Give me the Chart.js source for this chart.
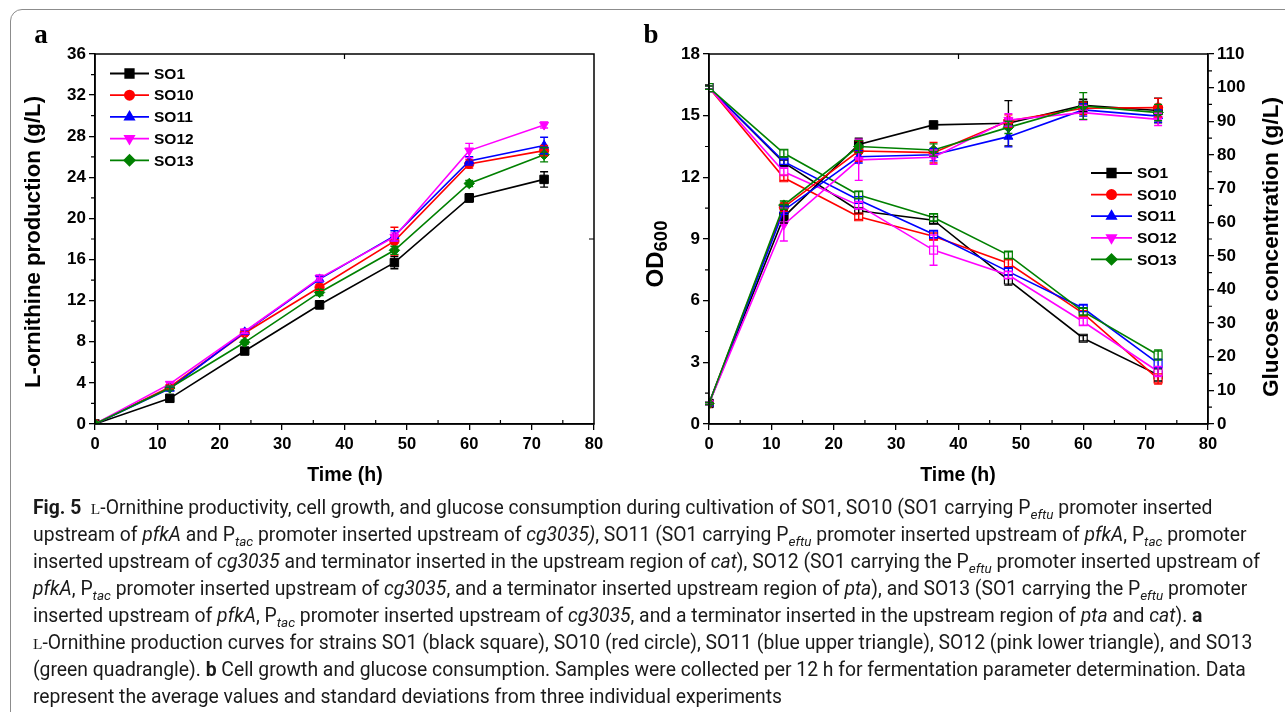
<!DOCTYPE html>
<html>
<head>
<meta charset="utf-8">
<script src="https://cdn.jsdelivr.net/npm/chart.js@4.4.0/dist/chart.umd.min.js"></script>
<style>
  html,body{margin:0;padding:0;background:#fff;}
  body{width:1285px;height:712px;overflow:hidden;position:relative;}
  #frame{position:absolute;left:10px;top:9px;width:1320px;height:760px;border:1.5px solid #8c8c8c;border-radius:12px;box-sizing:border-box;}
  canvas{position:absolute;top:0;}
  #ca{left:0;}
  #cb{left:640px;}
  #cap{position:absolute;left:33px;top:494px;font-family:Roboto,"Open Sans",sans-serif;font-size:17.6px;line-height:27px;color:#1a1a1a;white-space:nowrap;}
  #cap .ln{height:27px;}
  #cap b{font-weight:700;}
  #cap .sc{font-size:0.8em;font-family:"Liberation Serif",serif;}
  #cap sub{font-size:0.7em;font-style:italic;vertical-align:-0.35em;line-height:0;}
</style>
</head>
<body>
<div id="frame"></div>
<canvas id="ca" width="640" height="500"></canvas>
<canvas id="cb" width="645" height="500"></canvas>
<div id="cap">
<div class="ln" id="ln1"><b>Fig. 5</b>&nbsp; <span class="sc">L</span>-Ornithine productivity, cell growth, and glucose consumption during cultivation of SO1, SO10 (SO1 carrying P<sub>eftu</sub> promoter inserted</div>
<div class="ln">upstream of <i>pfkA</i> and P<sub>tac</sub> promoter inserted upstream of <i>cg3035)</i>, SO11 (SO1 carrying P<sub>eftu</sub> promoter inserted upstream of <i>pfkA</i>, P<sub>tac</sub> promoter</div>
<div class="ln">inserted upstream of <i>cg3035</i> and terminator inserted in the upstream region of <i>cat</i>), SO12 (SO1 carrying the P<sub>eftu</sub> promoter inserted upstream of</div>
<div class="ln"><i>pfkA</i>, P<sub>tac</sub> promoter inserted upstream of <i>cg3035</i>, and a terminator inserted upstream region of <i>pta</i>), and SO13 (SO1 carrying the P<sub>eftu</sub> promoter</div>
<div class="ln">inserted upstream of <i>pfkA</i>, P<sub>tac</sub> promoter inserted upstream of <i>cg3035</i>, and a terminator inserted in the upstream region of <i>pta</i> and <i>cat</i>). <b>a</b></div>
<div class="ln"><span class="sc">L</span>-Ornithine production curves for strains SO1 (black square), SO10 (red circle), SO11 (blue upper triangle), SO12 (pink lower triangle), and SO13</div>
<div class="ln">(green quadrangle). <b>b</b> Cell growth and glucose consumption. Samples were collected per 12 h for fermentation parameter determination. Data</div>
<div class="ln">represent the average values and standard deviations from three individual experiments</div>
</div>
<script>
// ---------------- DATA ----------------
const timeH = [0, 12, 24, 36, 48, 60, 72];
const strains = ['SO1', 'SO10', 'SO11', 'SO12', 'SO13'];

// Panel a: L-ornithine production (g/L)
const ornSO1  = [0, 2.5, 7.1, 11.6, 15.7, 22.0, 23.8];
const ornSO10 = [0, 3.6, 8.85, 13.3, 17.8, 25.3, 26.6];
const ornSO11 = [0, 3.45, 8.95, 14.1, 18.3, 25.6, 27.1];
const ornSO12 = [0, 3.9, 9.0, 14.2, 18.2, 26.6, 29.1];
const ornSO13 = [0, 3.5, 7.95, 12.8, 16.9, 23.4, 26.2];
const ornErrSO1  = [0, 0.2, 0.3, 0.4, 0.6, 0.4, 0.75];
const ornErrSO10 = [0, 0.2, 0.2, 0.3, 1.35, 0.4, 0.5];
const ornErrSO11 = [0, 0.2, 0.2, 0.3, 0.5, 0.4, 0.8];
const ornErrSO12 = [0, 0.2, 0.2, 0.3, 0.4, 0.7, 0.3];
const ornErrSO13 = [0, 0.2, 0.2, 0.3, 0.4, 0.3, 0.7];

// Panel b: OD600 (left axis)
const odSO1  = [1.0, 10.08, 13.6, 14.55, 14.63, 15.5, 15.25];
const odSO10 = [1.0, 10.55, 13.28, 13.2, 14.74, 15.36, 15.39];
const odSO11 = [1.0, 10.4, 13.0, 13.1, 13.98, 15.28, 14.98];
const odSO12 = [1.0, 9.7, 12.85, 12.98, 14.79, 15.15, 14.82];
const odSO13 = [1.0, 10.65, 13.5, 13.33, 14.43, 15.47, 15.15];
const odErrSO1  = [0.05, 0.3, 0.3, 0.1, 1.1, 0.3, 0.6];
const odErrSO10 = [0.05, 0.2, 0.5, 0.5, 0.3, 0.3, 0.45];
const odErrSO11 = [0.05, 0.2, 0.3, 0.3, 0.5, 0.3, 0.3];
const odErrSO12 = [0.05, 0.8, 1.0, 0.35, 0.3, 0.35, 0.3];
const odErrSO13 = [0.05, 0.2, 0.3, 0.3, 0.3, 0.65, 0.4];

// Panel b: glucose concentration (g/L, right axis)
const gluSO1  = [100, 77.7, 63.4, 60.6, 42.8, 25.5, 14.6];
const gluSO10 = [100, 73.2, 61.6, 55.8, 47.8, 32.9, 13.4];
const gluSO11 = [100, 78.0, 66.6, 56.4, 45.3, 34.4, 18.0];
const gluSO12 = [100, 75.0, 65.0, 51.7, 44.3, 30.4, 15.6];
const gluSO13 = [100, 80.5, 68.1, 61.4, 50.2, 33.4, 20.5];
const gluErrSO1  = [0.5, 0.8, 0.8, 1.0, 1.5, 0.8, 1.8];
const gluErrSO10 = [0.5, 0.8, 0.8, 1.0, 1.0, 0.8, 1.5];
const gluErrSO11 = [0.5, 0.8, 1.0, 1.0, 1.0, 1.0, 1.2];
const gluErrSO12 = [0.5, 1.0, 1.0, 4.5, 1.0, 1.0, 1.5];
const gluErrSO13 = [0.5, 1.0, 1.0, 1.0, 1.0, 1.0, 1.5];

const colors = ['#000000', '#ff0000', '#0000ff', '#ff00ff', '#008000'];
const markerStyles = ['rect', 'circle', 'triangle', 'triangle', 'rectRot'];
const markerRot = [0, 0, 0, 180, 0];
const markerRad = [6, 4.6, 5.2, 5.2, 5.2];

const ornSeries = [ornSO1, ornSO10, ornSO11, ornSO12, ornSO13];
const ornErrs = [ornErrSO1, ornErrSO10, ornErrSO11, ornErrSO12, ornErrSO13];
const odSeries = [odSO1, odSO10, odSO11, odSO12, odSO13];
const odErrs = [odErrSO1, odErrSO10, odErrSO11, odErrSO12, odErrSO13];
const gluSeries = [gluSO1, gluSO10, gluSO11, gluSO12, gluSO13];
const gluErrs = [gluErrSO1, gluErrSO10, gluErrSO11, gluErrSO12, gluErrSO13];

// ---------------- HELPERS ----------------
const FONT = '"Liberation Sans", Arial, sans-serif';
const pts = arr => timeH.map((t, i) => ({x: t, y: arr[i]}));

function mkSet(i, vals, errs, axis, open, legend) {
  return {
    label: strains[i], data: pts(vals), errors: errs, legend: legend,
    yAxisID: axis, borderColor: colors[i], backgroundColor: colors[i],
    borderWidth: 1.6, tension: 0, fill: false,
    pointStyle: open ? 'rect' : markerStyles[i],
    rotation: open ? 0 : markerRot[i],
    pointRadius: open ? 5.6 : markerRad[i],
    pointBorderWidth: open ? 1.2 : 1,
    pointBackgroundColor: open ? 'rgba(255,255,255,0.9)' : colors[i],
    pointBorderColor: colors[i],
    order: (open ? 10 : 0) + 4 - i
  };
}

const errorBars = {
  id: 'errorBars',
  afterDatasetsDraw(chart) {
    const ctx = chart.ctx;
    chart.data.datasets.forEach((ds, di) => {
      if (!ds.errors) return;
      const meta = chart.getDatasetMeta(di);
      const sc = chart.scales[ds.yAxisID];
      ctx.save();
      ctx.strokeStyle = ds.borderColor; ctx.lineWidth = 1.4;
      meta.data.forEach((el, j) => {
        const v = ds.data[j].y, e = ds.errors[j];
        if (!e) return;
        const yt = sc.getPixelForValue(v + e), yb = sc.getPixelForValue(v - e);
        const x = el.x;
        ctx.beginPath();
        ctx.moveTo(x, yt); ctx.lineTo(x, yb);
        ctx.moveTo(x - 4, yt); ctx.lineTo(x + 4, yt);
        ctx.moveTo(x - 4, yb); ctx.lineTo(x + 4, yb);
        ctx.stroke();
      });
      ctx.restore();
    });
  }
};

const frameTicks = {
  id: 'frameTicks',
  afterDraw(chart, args, o) {
    const ctx = chart.ctx, ca = chart.chartArea;
    ctx.save();
    ctx.strokeStyle = '#000'; ctx.lineWidth = 1.5;
    ctx.strokeRect(ca.left, ca.top, ca.right - ca.left, ca.bottom - ca.top);
    ctx.lineWidth = 1.2;
    ctx.beginPath();
    (o.minor || []).forEach(m => {
      const sc = chart.scales[m.id];
      for (let v = sc.min; v <= sc.max + 1e-9; v += m.step) {
        if (Math.abs(v / m.major - Math.round(v / m.major)) < 1e-6) continue;
        const p = sc.getPixelForValue(v);
        if (m.id === 'x') { ctx.moveTo(p, ca.bottom); ctx.lineTo(p, ca.bottom - 4); }
        else if (m.side === 'right') { ctx.moveTo(ca.right, p); ctx.lineTo(ca.right + 4, p); }
        else { ctx.moveTo(ca.left, p); ctx.lineTo(ca.left - 4, p); }
      }
    });
    const xs = chart.scales.x;
    (o.topTicks || []).forEach(v => { const p = xs.getPixelForValue(v); ctx.moveTo(p, ca.top); ctx.lineTo(p, ca.top + 5); });
    (o.rightTicks || []).forEach(v => { const p = chart.scales.y.getPixelForValue(v); ctx.moveTo(ca.right, p); ctx.lineTo(ca.right - 5, p); });
    ctx.stroke();
    ctx.restore();
  }
};

const legendPlug = {
  id: 'customLegend',
  afterDraw(chart, args, o) {
    const ctx = chart.ctx;
    let row = 0;
    chart.data.datasets.forEach(ds => {
      if (!ds.legend) return;
      const y = o.y + row * o.rowH;
      ctx.save();
      ctx.strokeStyle = ds.borderColor; ctx.fillStyle = ds.borderColor; ctx.lineWidth = 1.8;
      ctx.beginPath(); ctx.moveTo(o.x, y); ctx.lineTo(o.x + o.len, y); ctx.stroke();
      Chart.helpers.drawPoint(ctx, {pointStyle: ds.pointStyle, rotation: ds.rotation, radius: ds.pointRadius, borderWidth: 1}, o.x + o.len / 2, y);
      ctx.fillStyle = '#000';
      ctx.font = 'bold ' + o.size + 'px ' + FONT;
      ctx.textBaseline = 'middle'; ctx.textAlign = 'left';
      ctx.fillText(ds.label, o.x + o.len + 5, y + 1);
      ctx.restore();
      row++;
    });
  }
};

const titlesPlug = {
  id: 'titles',
  afterDraw(chart, args, o) {
    const ctx = chart.ctx;
    (o.items || []).forEach(t => {
      ctx.save();
      ctx.translate(t.x, t.y);
      if (t.rot) ctx.rotate(t.rot * Math.PI / 180);
      ctx.fillStyle = '#000';
      ctx.textBaseline = 'middle';
      const parts = t.parts || [{text: t.text, size: t.size, dy: 0}];
      let total = 0;
      parts.forEach(p => { ctx.font = (t.weight || 'bold') + ' ' + p.size + 'px ' + (t.family || FONT); p.w = ctx.measureText(p.text).width; total += p.w; });
      let cx = -total / 2;
      parts.forEach(p => {
        ctx.font = (t.weight || 'bold') + ' ' + p.size + 'px ' + (t.family || FONT);
        ctx.textAlign = 'left';
        ctx.fillText(p.text, cx, p.dy || 0);
        cx += p.w;
      });
      ctx.restore();
    });
  }
};

function axisX() {
  return {
    type: 'linear', min: 0, max: 80,
    ticks: {stepSize: 10, color: '#000', padding: 5, maxRotation: 0, autoSkip: false,
            font: {family: FONT, weight: 'bold', size: 16.5}},
    grid: {drawOnChartArea: false, drawTicks: true, tickLength: 6, color: '#000', lineWidth: 1.3},
    border: {color: '#000', width: 1.5},
    afterFit(s) { s.height = 76; }
  };
}
function axisY(min, max, step, w, pos) {
  return {
    type: 'linear', position: pos, min: min, max: max,
    ticks: {stepSize: step, color: '#000', padding: 3, font: {family: FONT, weight: 'bold', size: 17}},
    grid: {drawOnChartArea: false, drawTicks: true, tickLength: 6, color: '#000', lineWidth: 1.3},
    border: {color: '#000', width: 1.5},
    afterFit(s) { s.width = w; }
  };
}

Chart.defaults.font.family = FONT;

// ---------------- PANEL A ----------------
new Chart(document.getElementById('ca'), {
  type: 'line',
  data: {datasets: ornSeries.map((s, i) => mkSet(i, s, ornErrs[i], 'y', false, true))},
  options: {
    responsive: false, animation: false, devicePixelRatio: 1,
    layout: {padding: {left: 0, right: 46, top: 54, bottom: 0}},
    scales: {x: axisX(), y: axisY(0, 36, 4, 95, 'left')},
    plugins: {
      legend: {display: false}, tooltip: {enabled: false},
      frameTicks: {minor: [{id: 'x', step: 5, major: 10}, {id: 'y', step: 2, major: 4}], topTicks: [40], rightTicks: [18]},
      customLegend: {x: 110, y: 73.5, rowH: 21.7, len: 39, size: 15.5},
      titles: {items: [
        {text: 'L-ornithine production (g/L)', size: 22.2, x: 34, y: 242, rot: -90},
        {text: 'Time (h)', size: 19.5, x: 345, y: 476},
        {text: 'a', size: 27, x: 41, y: 36, family: '"Liberation Serif", serif'}
      ]}
    }
  },
  plugins: [errorBars, frameTicks, legendPlug, titlesPlug]
});

// ---------------- PANEL B ----------------
const bSets = [];
gluSeries.forEach((s, i) => bSets.push(mkSet(i, s, gluErrs[i], 'y2', true, false)));
odSeries.forEach((s, i) => bSets.push(mkSet(i, s, odErrs[i], 'y', false, true)));

new Chart(document.getElementById('cb'), {
  type: 'line',
  data: {datasets: bSets},
  options: {
    responsive: false, animation: false, devicePixelRatio: 1,
    layout: {padding: {left: 0, right: 0, top: 54, bottom: 0}},
    scales: {x: axisX(), y: axisY(0, 18, 3, 69, 'left'), y2: axisY(0, 110, 10, 77, 'right')},
    plugins: {
      legend: {display: false}, tooltip: {enabled: false},
      frameTicks: {minor: [{id: 'x', step: 5, major: 10}, {id: 'y', step: 1.5, major: 3}, {id: 'y2', step: 5, major: 10, side: 'right'}], topTicks: [40]},
      customLegend: {x: 451, y: 173, rowH: 21.6, len: 41, size: 15.5},
      titles: {items: [
        {x: 16, y: 254, rot: -90, parts: [{text: 'OD', size: 24, dy: 0}, {text: '600', size: 18.5, dy: 6}]},
        {text: 'Glucose concentration (g/L)', size: 22.6, x: 632, y: 247, rot: -90},
        {text: 'Time (h)', size: 19.5, x: 318, y: 476},
        {text: 'b', size: 27, x: 11, y: 36, family: '"Liberation Serif", serif'}
      ]}
    }
  },
  plugins: [errorBars, frameTicks, legendPlug, titlesPlug]
});

// fit caption line 1 to the reference line length by font size
(function fitCaption() {
  const cap = document.getElementById('cap');
  const l1 = document.getElementById('ln1');
  l1.style.display = 'inline-block';
  const w = l1.getBoundingClientRect().width;
  const target = 1180;
  const fs = 17.6 * target / w;
  cap.style.fontSize = fs.toFixed(2) + 'px';
  l1.style.display = 'block';
})();
</script>
</body>
</html>
